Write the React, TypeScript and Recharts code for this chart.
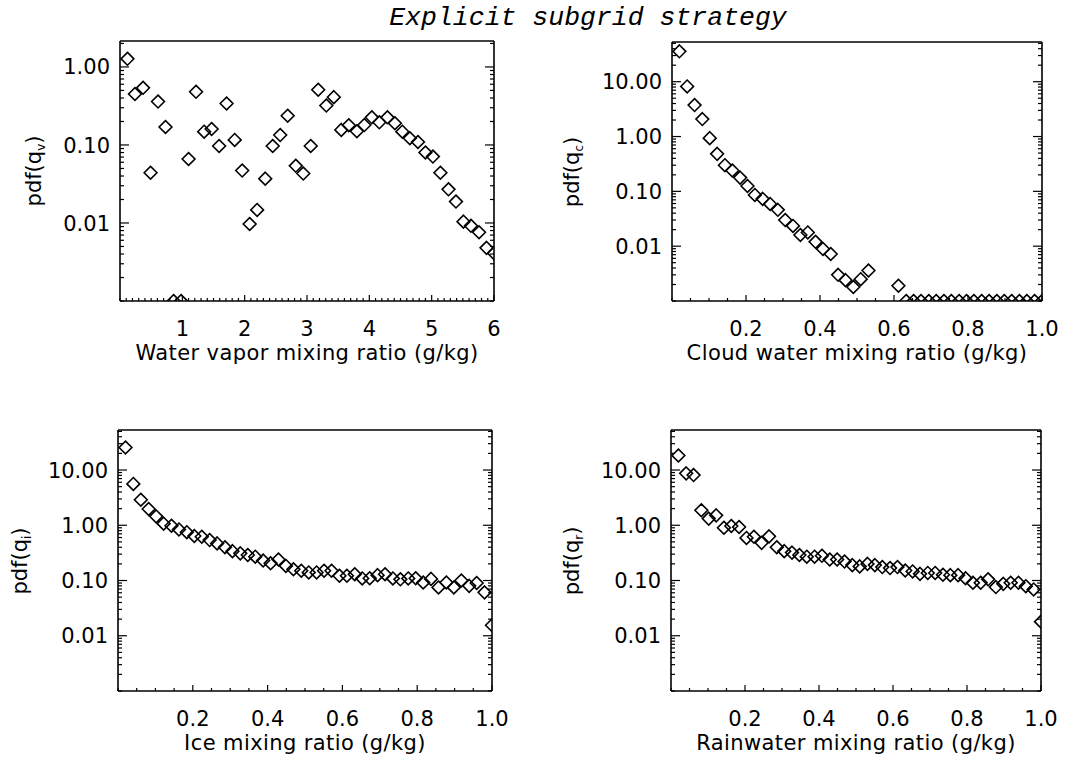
import React from 'react'
import { ScatterChart, Scatter, XAxis, YAxis } from 'recharts'

// bin centres (g/kg)
const vaporX = [
  0.12, 0.24, 0.37, 0.49, 0.61, 0.73, 0.86, 0.98, 1.1, 1.22, 1.35, 1.47, 1.59, 1.71, 1.84, 1.96, 2.08,
  2.2, 2.33, 2.45, 2.57, 2.69, 2.82, 2.94, 3.06, 3.18, 3.31, 3.43, 3.55, 3.67, 3.8, 3.92, 4.04, 4.16,
  4.29, 4.41, 4.53, 4.65, 4.78, 4.9, 5.02, 5.14, 5.27, 5.39, 5.51, 5.63, 5.76, 5.88, 6.0,
]
const ratioX = [
  0.02, 0.041, 0.061, 0.082, 0.102, 0.122, 0.143, 0.163, 0.184, 0.204, 0.224, 0.245, 0.265, 0.286,
  0.306, 0.327, 0.347, 0.367, 0.388, 0.408, 0.429, 0.449, 0.469, 0.49, 0.51, 0.531, 0.551, 0.571,
  0.592, 0.612, 0.633, 0.653, 0.673, 0.694, 0.714, 0.735, 0.755, 0.776, 0.796, 0.816, 0.837, 0.857,
  0.878, 0.898, 0.918, 0.939, 0.959, 0.98, 1.0,
]

// pdf values; 0.001 = sits on the floor of the log axis, null = not drawn
const vaporPdf = [
  1.27, 0.45, 0.54, 0.044, 0.36, 0.17, 0.001, 0.001, 0.066, 0.48, 0.148, 0.16, 0.097, 0.34, 0.116,
  0.047, 0.0097, 0.0147, 0.037, 0.097, 0.134, 0.237, 0.054, 0.043, 0.097, 0.51, 0.32, 0.41, 0.156,
  0.179, 0.15, 0.18, 0.226, 0.195, 0.226, 0.19, 0.148, 0.122, 0.109, 0.08, 0.071, 0.044, 0.027,
  0.0188, 0.0104, 0.0092, 0.0076, 0.0048, 0.0041,
]
const cloudPdf = [
  35.8, 8.2, 3.75, 2.08, 0.935, 0.483, 0.3, 0.24, 0.178, 0.125, 0.086, 0.073, 0.059, 0.046, 0.03,
  0.0234, 0.016, 0.0178, 0.012, 0.0089, 0.0072, 0.003, 0.0024, 0.0018, 0.0025, 0.0036, null, null,
  null, 0.0019, 0.001, 0.001, 0.001, 0.001, 0.001, 0.001, 0.001, 0.001, 0.001, 0.001, 0.001, 0.001,
  0.001, 0.001, 0.001, 0.001, 0.001, 0.001, 0.001,
]
const icePdf = [
  25.6, 5.6, 2.9, 1.97, 1.45, 1.07, 0.98, 0.84, 0.75, 0.64, 0.62, 0.54, 0.47, 0.4, 0.34, 0.31, 0.29,
  0.27, 0.23, 0.205, 0.24, 0.184, 0.16, 0.15, 0.14, 0.14, 0.15, 0.15, 0.122, 0.122, 0.13, 0.109,
  0.11, 0.125, 0.13, 0.109, 0.105, 0.109, 0.11, 0.092, 0.107, 0.075, 0.092, 0.075, 0.1, 0.08, 0.09,
  0.061, 0.0155,
]
const rainPdf = [
  18.3, 8.7, 8.1, 1.87, 1.32, 1.51, 0.9, 0.97, 0.93, 0.59, 0.62, 0.48, 0.63, 0.4, 0.34, 0.32, 0.29,
  0.27, 0.27, 0.28, 0.24, 0.24, 0.22, 0.19, 0.18, 0.2, 0.19, 0.175, 0.168, 0.175, 0.152, 0.146,
  0.132, 0.137, 0.137, 0.127, 0.125, 0.125, 0.11, 0.091, 0.091, 0.105, 0.076, 0.087, 0.091, 0.091,
  0.079, 0.069, 0.018,
]

const vaporTicks = [1, 2, 3, 4, 5, 6]
const ratioTicks = [0.2, 0.4, 0.6, 0.8, 1.0]
const pdfTicksLow = [0.01, 0.1, 1]
const pdfTicksHigh = [0.01, 0.1, 1, 10]

const FONT = '"DejaVu Sans", sans-serif'

const steps = (lo: number, hi: number, step: number) => {
  const out: number[] = []
  for (let v = lo; v <= hi + 1e-9; v += step) out.push(Math.round(v * 1000) / 1000)
  return out
}
const logMinor = (lo: number, hi: number) => {
  const out: number[] = []
  for (let d = lo; d <= hi; d *= 10) {
    for (let m = 1; m <= 9; m++) {
      const v = Number((d * m).toPrecision(3))
      if (v >= lo && v <= hi) out.push(v)
    }
  }
  return out
}
const isMajor = (v: number, majors: number[]) => majors.some((m) => Math.abs(m - v) <= 1e-6 * Math.abs(m))

const toPoints = (xs: number[], ys: (number | null)[]) =>
  xs.map((x, i) => ({ x, y: ys[i] })).filter((p) => p.y != null)

const Diamond = (props: any) => {
  const { cx, cy } = props
  if (cx == null || cy == null) return null
  const r = 6.4
  return (
    <path
      d={`M${cx},${cy - r}L${cx + r},${cy}L${cx},${cy + r}L${cx - r},${cy}Z`}
      fill="none"
      stroke="#000"
      strokeWidth={1.6}
    />
  )
}

type Side = 'bottom' | 'top' | 'left' | 'right'

const makeTick = (side: Side, majors: number[], fmt?: (v: number) => string) => (p: any) => {
  const v = p.payload.value
  const major = isMajor(v, majors)
  const horiz = side === 'bottom' || side === 'top'
  const len = horiz ? (major ? 6 : 3) : major ? 9 : 4
  const { x, y } = p
  let x2 = x
  let y2 = y
  if (side === 'bottom') y2 = y - len
  if (side === 'top') y2 = y + len
  if (side === 'left') x2 = x + len
  if (side === 'right') x2 = x - len
  return (
    <g>
      <line x1={x} y1={y} x2={x2} y2={y2} stroke="#000" strokeWidth={1.2} />
      {major && fmt && side === 'bottom' && (
        <text x={x} y={y + 35} textAnchor="middle" fontFamily={FONT} fontSize={21} fill="#000">
          {fmt(v)}
        </text>
      )}
      {major && fmt && side === 'left' && (
        <text x={x - 10} y={y} dy="0.36em" textAnchor="end" fontFamily={FONT} fontSize={21} fill="#000">
          {fmt(v)}
        </text>
      )}
    </g>
  )
}

interface PanelProps {
  plot: { x: number; y: number; w: number; h: number }
  data: { x: number; y: number | null }[]
  xDomain: [number, number]
  xMajor: number[]
  xMinor: number[]
  xFmt: (v: number) => string
  yDomain: [number, number]
  yMajor: number[]
  xTitle: string
  sub: string
  yTitleGap: number
}

const PADL = 110
const PADR = 20
const PADT = 15
const PADB = 50

const Panel: React.FC<PanelProps> = ({ plot, data, xDomain, xMajor, xMinor, xFmt, yDomain, yMajor, xTitle, sub, yTitleGap }) => {
  const yTicks = logMinor(yDomain[0], yDomain[1])
  const yFmt = (v: number) => v.toFixed(2)
  const axisLine = { stroke: '#000', strokeWidth: 1.6 }
  return (
    <>
      <div style={{ position: 'absolute', left: plot.x - PADL, top: plot.y - PADT }}>
        <ScatterChart
          width={plot.w + PADL + PADR}
          height={plot.h + PADT + PADB}
          margin={{ top: PADT - 1, right: PADR - 1, bottom: PADB - 1, left: PADL - 1 }}
        >
          <XAxis
            xAxisId="b"
            type="number"
            dataKey="x"
            domain={xDomain}
            ticks={xMinor}
            interval={0}
            height={1}
            tickSize={0}
            tickMargin={0}
            tickLine={false}
            axisLine={axisLine}
            tick={makeTick('bottom', xMajor, xFmt)}
            allowDataOverflow
          />
          <XAxis
            xAxisId="t"
            orientation="top"
            type="number"
            domain={xDomain}
            ticks={xMinor}
            interval={0}
            height={1}
            tickSize={0}
            tickMargin={0}
            tickLine={false}
            axisLine={axisLine}
            tick={makeTick('top', xMajor)}
            allowDataOverflow
          />
          <YAxis
            yAxisId="l"
            type="number"
            dataKey="y"
            scale="log"
            domain={yDomain}
            ticks={yTicks}
            interval={0}
            width={1}
            tickSize={0}
            tickMargin={0}
            tickLine={false}
            axisLine={axisLine}
            tick={makeTick('left', yMajor, yFmt)}
            allowDataOverflow
          />
          <YAxis
            yAxisId="r"
            orientation="right"
            type="number"
            scale="log"
            domain={yDomain}
            ticks={yTicks}
            interval={0}
            width={1}
            tickSize={0}
            tickMargin={0}
            tickLine={false}
            axisLine={axisLine}
            tick={makeTick('right', yMajor)}
            allowDataOverflow
          />
          <Scatter xAxisId="b" yAxisId="l" data={data} shape={Diamond} isAnimationActive={false} />
        </ScatterChart>
      </div>
      <div
        style={{
          position: 'absolute',
          left: plot.x + plot.w / 2,
          top: plot.y + plot.h + 40,
          transform: 'translateX(-50%)',
          fontFamily: FONT,
          fontSize: 21,
          letterSpacing: 0.4,
          whiteSpace: 'nowrap',
          lineHeight: '25px',
        }}
      >
        {xTitle}
      </div>
      <div
        style={{
          position: 'absolute',
          left: plot.x - yTitleGap,
          top: plot.y + plot.h / 2,
          transform: 'translate(-50%, -50%) rotate(-90deg)',
          fontFamily: FONT,
          fontSize: 21,
          whiteSpace: 'nowrap',
          lineHeight: '25px',
        }}
      >
        pdf(q<span style={{ fontSize: 12, verticalAlign: -4 }}>{sub}</span>)
      </div>
    </>
  )
}

export default function App() {
  const ratioMinor = steps(0, 1, 0.05)
  return (
    <div style={{ position: 'absolute', left: 0, top: 0, width: 1070, height: 760, background: '#fff', overflow: 'hidden' }}>
      <div
        style={{
          position: 'absolute',
          left: 588,
          top: 3,
          transform: 'translateX(-50%)',
          fontFamily: '"Liberation Mono", monospace',
          fontStyle: 'italic',
          fontSize: 26.5,
          whiteSpace: 'nowrap',
          lineHeight: '30px',
        }}
      >
        Explicit subgrid strategy
      </div>
      <Panel
        plot={{ x: 120, y: 41, w: 374, h: 260 }}
        data={toPoints(vaporX, vaporPdf)}
        xDomain={[0, 6]}
        xMajor={vaporTicks}
        xMinor={steps(0, 6, 0.1)}
        xFmt={(v) => String(v)}
        yDomain={[0.001, 2.15]}
        yMajor={pdfTicksLow}
        xTitle="Water vapor mixing ratio (g/kg)"
        sub="v"
        yTitleGap={82}
      />
      <Panel
        plot={{ x: 672, y: 42, w: 370, h: 259 }}
        data={toPoints(ratioX, cloudPdf)}
        xDomain={[0, 1]}
        xMajor={ratioTicks}
        xMinor={ratioMinor}
        xFmt={(v) => v.toFixed(1)}
        yDomain={[0.001, 53]}
        yMajor={pdfTicksHigh}
        xTitle="Cloud water mixing ratio (g/kg)"
        sub="c"
        yTitleGap={96}
      />
      <Panel
        plot={{ x: 118, y: 430, w: 374, h: 261 }}
        data={toPoints(ratioX, icePdf)}
        xDomain={[0, 1]}
        xMajor={ratioTicks}
        xMinor={ratioMinor}
        xFmt={(v) => v.toFixed(1)}
        yDomain={[0.001, 53]}
        yMajor={pdfTicksHigh}
        xTitle="Ice mixing ratio (g/kg)"
        sub="i"
        yTitleGap={94}
      />
      <Panel
        plot={{ x: 671, y: 430, w: 370, h: 261 }}
        data={toPoints(ratioX, rainPdf)}
        xDomain={[0, 1]}
        xMajor={ratioTicks}
        xMinor={ratioMinor}
        xFmt={(v) => v.toFixed(1)}
        yDomain={[0.001, 53]}
        yMajor={pdfTicksHigh}
        xTitle="Rainwater mixing ratio (g/kg)"
        sub="r"
        yTitleGap={95}
      />
    </div>
  )
}
